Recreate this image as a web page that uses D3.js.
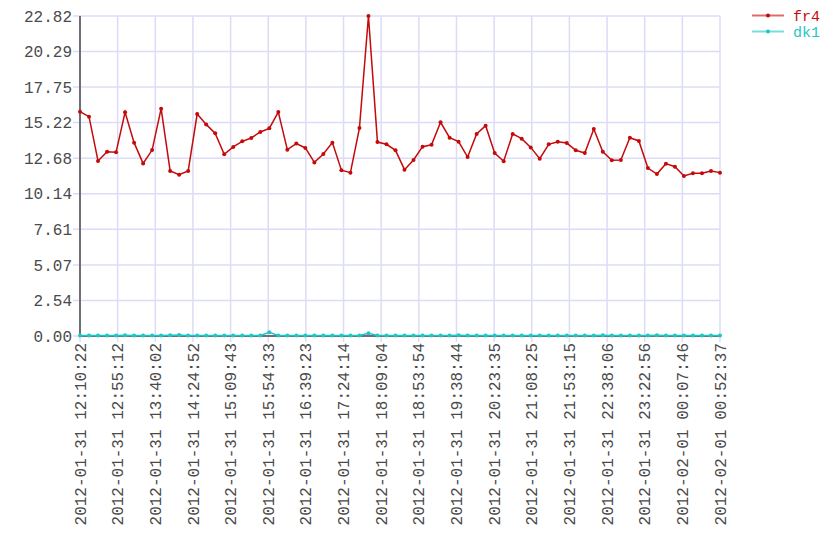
<!DOCTYPE html>
<html>
<head>
<meta charset="utf-8">
<script src="https://cdn.jsdelivr.net/npm/d3@7"></script>
<style>
body { margin: 0; background: #fff; }
svg text { font-family: "Liberation Mono", "Courier New", monospace; font-size: 16px; }
</style>
</head>
<body>
<script>
(function(){

//tick labels along the time axis
var timeLabels = ["2012-01-31 12:10:22", "2012-01-31 12:55:12", "2012-01-31 13:40:02", "2012-01-31 14:24:52",
    "2012-01-31 15:09:43", "2012-01-31 15:54:33", "2012-01-31 16:39:23", "2012-01-31 17:24:14",
    "2012-01-31 18:09:04", "2012-01-31 18:53:54", "2012-01-31 19:38:44", "2012-01-31 20:23:35",
    "2012-01-31 21:08:25", "2012-01-31 21:53:15", "2012-01-31 22:38:06", "2012-01-31 23:22:56",
    "2012-02-01 00:07:46", "2012-02-01 00:52:37"];

//value axis tick labels
var valueTicks = [0, 2.54, 5.07, 7.61, 10.14, 12.68, 15.22, 17.75, 20.29, 22.82];

//series names
var seriesNames = ["fr4", "dk1"];

//fr4 readings
var fr4 = [16.00, 15.64, 12.48, 13.14, 13.10, 15.95, 13.79, 12.31, 13.26, 16.21,
    11.77, 11.50, 11.77, 15.83, 15.09, 14.45, 12.96, 13.48, 13.88, 14.12,
    14.55, 14.81, 15.97, 13.29, 13.72, 13.41, 12.38, 12.98, 13.79, 11.82,
    11.65, 14.83, 22.82, 13.83, 13.67, 13.24, 11.86, 12.55, 13.50, 13.64,
    15.24, 14.14, 13.86, 12.76, 14.41, 15.00, 13.05, 12.46, 14.41, 14.07,
    13.45, 12.64, 13.67, 13.85, 13.76, 13.24, 13.05, 14.76, 13.14, 12.53,
    12.55, 14.14, 13.91, 11.98, 11.55, 12.29, 12.07, 11.41, 11.60, 11.60,
    11.77, 11.65];

//dk1 readings
var dk1 = [0.04, 0.04, 0.04, 0.04, 0.04, 0.06, 0.04, 0.04, 0.04, 0.04,
    0.05, 0.07, 0.04, 0.04, 0.04, 0.04, 0.04, 0.04, 0.04, 0.04,
    0.04, 0.26, 0.04, 0.04, 0.04, 0.04, 0.04, 0.04, 0.04, 0.04,
    0.04, 0.04, 0.19, 0.04, 0.04, 0.04, 0.04, 0.04, 0.04, 0.04,
    0.04, 0.04, 0.06, 0.04, 0.04, 0.04, 0.04, 0.04, 0.04, 0.04,
    0.04, 0.04, 0.04, 0.04, 0.04, 0.04, 0.04, 0.04, 0.06, 0.04,
    0.04, 0.04, 0.04, 0.04, 0.06, 0.04, 0.04, 0.04, 0.04, 0.04,
    0.04, 0.04];

var colors = ["#c40a0a", "#1fc6c6"];

var width = 840,
    height = 560,
    left = 80,
    right = 720,
    top = 16,
    bottom = 336;

var svg = d3.select("body")
    .append("svg")
    .attr("width", width)
    .attr("height", height);

//scales
var x = d3.scaleLinear()
    .domain([0, fr4.length - 1])
    .range([left, right]);

var xTick = d3.scalePoint()
    .domain(timeLabels)
    .range([left, right]);

var y = d3.scaleLinear()
    .domain([0, d3.max(valueTicks)])
    .range([bottom, top]);

//grid lines
svg.append("g")
    .selectAll("line")
    .data(valueTicks)
    .enter()
    .append("line")
    .attr("x1", left - 7)
    .attr("x2", right)
    .attr("y1", function(d){ return y(d); })
    .attr("y2", function(d){ return y(d); })
    .attr("stroke", "#dcdcf6")
    .attr("stroke-width", 1.5);

svg.append("g")
    .selectAll("line")
    .data(timeLabels)
    .enter()
    .append("line")
    .attr("x1", function(d){ return xTick(d); })
    .attr("x2", function(d){ return xTick(d); })
    .attr("y1", top)
    .attr("y2", bottom + 6)
    .attr("stroke", "#dcdcf6")
    .attr("stroke-width", 1.5);

//axis lines
svg.append("line")
    .attr("x1", left).attr("x2", left)
    .attr("y1", top).attr("y2", bottom)
    .attr("stroke", "#6e6e78")
    .attr("stroke-width", 2);

svg.append("line")
    .attr("x1", left).attr("x2", right)
    .attr("y1", bottom).attr("y2", bottom)
    .attr("stroke", "#6e6e78")
    .attr("stroke-width", 2);

//y tick labels
svg.append("g")
    .selectAll("text")
    .data(valueTicks)
    .enter()
    .append("text")
    .attr("x", left - 8)
    .attr("y", function(d){ return y(d); })
    .attr("dy", "0.35em")
    .attr("text-anchor", "end")
    .attr("fill", "#4a4a4a")
    .text(function(d){ return d.toFixed(2); });

//x tick labels, rotated
svg.append("g")
    .selectAll("text")
    .data(timeLabels)
    .enter()
    .append("text")
    .attr("transform", function(d){
        return "translate(" + xTick(d) + "," + (bottom + 7) + ") rotate(-90)";
    })
    .attr("dy", "0.35em")
    .attr("text-anchor", "end")
    .attr("fill", "#4a4a4a")
    .text(function(d){ return d; });

//series lines and dots
var seriesData = [fr4, dk1];

var line = d3.line()
    .x(function(d, i){ return x(i); })
    .y(function(d){ return y(d); });

[1, 0].forEach(function(s){
    var g = svg.append("g");
    g.append("path")
        .datum(seriesData[s])
        .attr("fill", "none")
        .attr("stroke", colors[s])
        .attr("stroke-width", 1.5)
        .attr("d", line);
    g.selectAll("circle")
        .data(seriesData[s])
        .enter()
        .append("circle")
        .attr("cx", function(d, i){ return x(i); })
        .attr("cy", function(d){ return y(d); })
        .attr("r", 2)
        .attr("fill", colors[s]);
});

//legend
var legend = svg.append("g")
    .selectAll("g")
    .data(seriesNames)
    .enter()
    .append("g")
    .attr("transform", function(d, i){ return "translate(752," + (15.5 + i * 16) + ")"; });

legend.append("line")
    .attr("x1", 0).attr("x2", 32)
    .attr("stroke", function(d, i){ return colors[i]; })
    .attr("stroke-opacity", 0.6)
    .attr("stroke-width", 2);

legend.append("circle")
    .attr("cx", 16)
    .attr("r", 2)
    .attr("fill", function(d, i){ return colors[i]; });

legend.append("text")
    .attr("x", 41)
    .attr("dy", "0.35em")
    .style("font-size", "15px")
    .attr("fill", function(d, i){ return colors[i]; })
    .text(function(d){ return d; });

})();
</script>
</body>
</html>
